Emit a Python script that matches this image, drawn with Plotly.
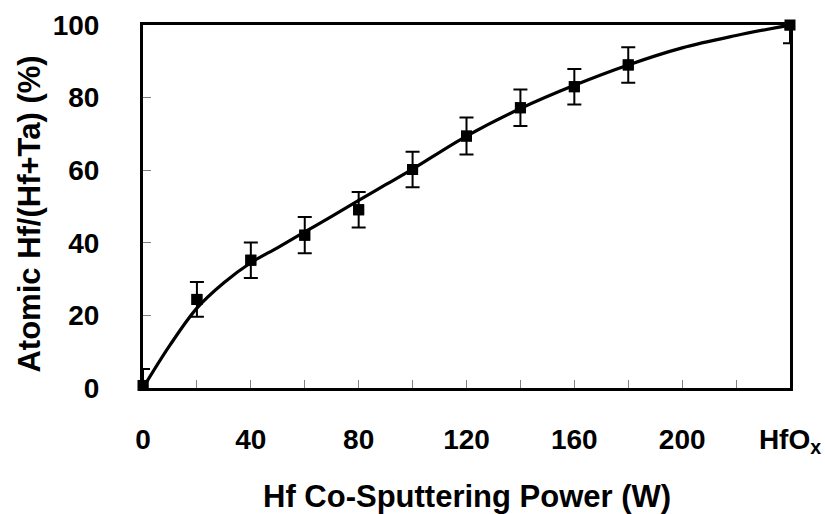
import plotly.graph_objects as go

# Measured data points
power = [0, 20, 40, 60, 80, 100, 120, 140, 160, 180, 240]
hf_frac = [0.7, 24.4, 35.2, 42.1, 49.1, 60.2, 69.4, 77.2, 83.0, 89.0, 100.0]
err = [4.5, 4.8, 4.9, 5.0, 4.9, 4.9, 5.1, 5.0, 4.9, 4.9, 5.0]

# Trend curve
curve_x = [0, 10, 20, 30, 40, 50, 60, 70, 80, 90, 100, 120, 140, 160, 180, 200, 220, 240]
curve_y = [0, 11.8, 22, 29, 34.5, 38.7, 43, 47.3, 51.7, 56, 60.3, 69.4, 77, 83.4, 89, 93.7, 97.1, 100]

x_label_vals = [0, 40, 80, 120, 160, 200, 240]
x_label_text = ["0", "40", "80", "120", "160", "200", "HfO<sub>x</sub>"]
x_minor_vals = [20, 60, 100, 140, 180, 220]
y_ticks = [0, 20, 40, 60, 80, 100]

x_title = "Hf Co-Sputtering Power (W)"
y_title = "Atomic Hf/(Hf+Ta) (%)"

FONT = "Liberation Sans, Arial, sans-serif"
TICK_COLOR = "#808080"

fig = go.Figure()
fig.add_trace(go.Scatter(
    x=curve_x, y=curve_y, mode="lines",
    line=dict(color="black", width=3.2, shape="spline", smoothing=1.0),
    hoverinfo="skip", showlegend=False))
# error bars (clipped to plot area)
fig.add_trace(go.Scatter(
    x=power, y=hf_frac, mode="markers",
    marker=dict(symbol="square", size=11, color="black"),
    error_y=dict(type="data", array=err, visible=True, color="black",
                 thickness=2, width=7),
    cliponaxis=True, showlegend=False))
# markers (not clipped)
fig.add_trace(go.Scatter(
    x=power, y=hf_frac, mode="markers",
    marker=dict(symbol="square", size=11, color="black"),
    cliponaxis=False, showlegend=False))

fig.update_layout(
    width=825, height=514,
    margin=dict(l=143, r=35, t=25, b=126),
    paper_bgcolor="white", plot_bgcolor="white",
    font=dict(family=FONT, color="black"),
    xaxis=dict(
        range=[0, 240], tickmode="array", tickvals=x_label_vals, ticktext=x_label_text,
        ticks="inside", ticklen=8, tickwidth=1, tickcolor=TICK_COLOR,
        minor=dict(tickmode="array", tickvals=x_minor_vals, ticks="inside",
                   ticklen=8, tickwidth=1, tickcolor=TICK_COLOR, showgrid=False),
        showline=True, linewidth=3, linecolor="black", mirror=True,
        showgrid=False, zeroline=False, automargin=False,
        tickfont=dict(size=28, family=FONT, weight="bold"),
        ticklabelstandoff=24,
    ),
    yaxis=dict(
        range=[0, 100], tickmode="array", tickvals=y_ticks,
        ticks="inside", ticklen=8, tickwidth=1, tickcolor=TICK_COLOR,
        showline=True, linewidth=3, linecolor="black", mirror=True,
        showgrid=False, zeroline=False, automargin=False,
        tickfont=dict(size=28, family=FONT, weight="bold"),
        ticklabelstandoff=35,
    ),
    annotations=[
        dict(text="<b>" + x_title + "</b>", xref="paper", yref="paper",
             x=0.5, y=-0.30, xanchor="center", yanchor="middle",
             showarrow=False, font=dict(size=31, family=FONT)),
        dict(text="<b>" + y_title + "</b>", xref="paper", yref="paper",
             x=-0.175, y=0.48, xanchor="center", yanchor="middle", textangle=-90,
             showarrow=False, font=dict(size=31, family=FONT)),
    ],
)

fig.write_html("out.html", config={"displayModeBar": False},
               post_script="document.body.style.margin='0';document.body.style.overflow='hidden';")
